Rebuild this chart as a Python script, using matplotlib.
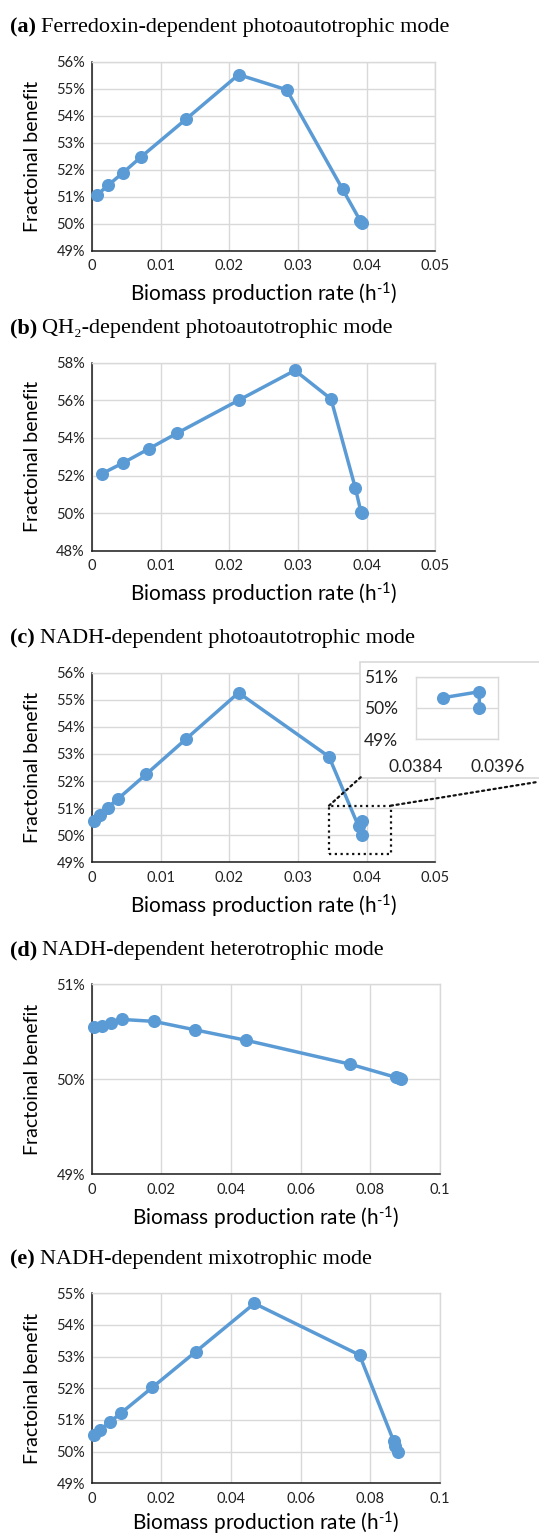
import matplotlib
matplotlib.use('Agg')
import matplotlib.pyplot as plt
from matplotlib.patches import Rectangle, ConnectionPatch
from matplotlib.ticker import FuncFormatter

plt.rcParams['font.family'] = ['Lato', 'DejaVu Sans']
plt.rcParams['mathtext.fontset'] = 'custom'
plt.rcParams['mathtext.rm'] = 'Lato'
plt.rcParams['mathtext.it'] = 'Lato:italic'
plt.rcParams['mathtext.bf'] = 'Lato:bold'

# values (x in h^-1, y in %)
a_x = [0.00075, 0.0024, 0.00455, 0.00715, 0.01365, 0.02135, 0.02835, 0.0365, 0.03905, 0.0393]
a_y = [51.06, 51.43, 51.89, 52.47, 53.86, 55.52, 54.96, 51.27, 50.11, 50.01]

b_x = [0.0015, 0.0045, 0.00835, 0.01245, 0.02135, 0.02955, 0.0348, 0.03835, 0.03915, 0.0393]
b_y = [52.10, 52.66, 53.43, 54.26, 56.00, 57.59, 56.07, 51.32, 50.07, 50.00]

c_x = [0.00025, 0.00115, 0.0023, 0.0038, 0.00795, 0.01365, 0.02135, 0.0345, 0.0388, 0.03933, 0.03933]
c_y = [50.54, 50.75, 51.02, 51.34, 52.26, 53.54, 55.26, 52.90, 50.33, 50.52, 50.00]

d_x = [0.0005, 0.0028, 0.0054, 0.0087, 0.0178, 0.0297, 0.0444, 0.0741, 0.0874, 0.0882, 0.0889]
d_y = [50.55, 50.56, 50.59, 50.63, 50.61, 50.52, 50.41, 50.16, 50.02, 50.01, 50.00]

e_x = [0.0007, 0.0024, 0.0051, 0.0083, 0.0174, 0.0299, 0.0467, 0.0769, 0.0867, 0.0872, 0.0878]
e_y = [50.51, 50.69, 50.93, 51.21, 52.03, 53.16, 54.68, 53.05, 50.33, 50.18, 49.99]

letters = ['(a)', '(b)', '(c)', '(d)', '(e)']
titles = ['Ferredoxin-dependent photoautotrophic mode',
          'QH\u2082-dependent photoautotrophic mode',
          'NADH-dependent photoautotrophic mode',
          'NADH-dependent heterotrophic mode',
          'NADH-dependent mixotrophic mode']
xmax = [0.05, 0.05, 0.05, 0.1, 0.1]
xstep = [0.01, 0.01, 0.01, 0.02, 0.02]
ylims = [(49, 56), (48, 58), (49, 56), (49, 51), (49, 55)]
ystep = [1, 2, 1, 1, 1]

blue = '#5b9bd5'
grid = '#d9d9d9'
W, H = 539, 1536

fig = plt.figure(figsize=(5.39, 15.36), dpi=100)

# axes boxes in pixels: left, top, right, bottom
boxes = [(91.8, 61.7, 435.5, 250.7),
         (91.8, 362.7, 435.5, 550.7),
         (91.8, 672.7, 435.5, 862.3),
         (91.8, 984.3, 440.0, 1174.3),
         (91.8, 1293.3, 440.0, 1483.3)]
title_y = [32, 333, 643, 955, 1264]
xlab_off = [44, 44, 44, 44, 40]


def pct(v, pos):
    return f'{v:.0f}%'


def num(v, pos):
    return f'{v:.3g}' if abs(v) > 1e-12 else '0'


data = [(a_x, a_y), (b_x, b_y), (c_x, c_y), (d_x, d_y), (e_x, e_y)]
serif = ['Liberation Serif', 'DejaVu Serif']
axes = []
for i, (xs, ys) in enumerate(data):
    l, t, r, b = boxes[i]
    ax = fig.add_axes([l / W, 1 - b / H, (r - l) / W, (b - t) / H])
    ax.plot(xs, ys, '-o', color=blue, lw=2.5, ms=8.4, clip_on=False, zorder=3)
    ax.set_xlim(0, xmax[i])
    ax.set_ylim(*ylims[i])
    n = int(round(xmax[i] / xstep[i]))
    ax.set_xticks([k * xstep[i] for k in range(n + 1)])
    ax.set_yticks(list(range(ylims[i][0], ylims[i][1] + 1, ystep[i])))
    ax.xaxis.set_major_formatter(FuncFormatter(num))
    ax.yaxis.set_major_formatter(FuncFormatter(pct))
    ax.grid(True, color=grid, lw=1.0)
    ax.set_axisbelow(True)
    ax.tick_params(length=0, labelsize=10.5, colors='#222222')
    ax.tick_params(axis='x', pad=6)
    ax.tick_params(axis='y', pad=5)
    for s in ['top', 'right']:
        ax.spines[s].set_color(grid)
        ax.spines[s].set_linewidth(1.0)
    for s in ['left', 'bottom']:
        ax.spines[s].set_color('#1a1a1a')
        ax.spines[s].set_linewidth(1.1)
    hpx = b - t
    ax.set_xlabel('Biomass production rate (h$^{\\text{-1}}$)', fontsize=15)
    ax.xaxis.set_label_coords(0.5, -xlab_off[i] / hpx)
    ax.xaxis.label.set_verticalalignment('center')
    ax.set_ylabel('Fractoinal benefit', fontsize=14)
    ax.yaxis.set_label_coords(-(l - 33) / (r - l), 0.5)
    ax.yaxis.label.set_verticalalignment('center')

    tb = fig.text(10 / W, 1 - title_y[i] / H, letters[i], fontsize=16, fontweight='bold',
                  family=serif, va='baseline', ha='left')
    ax.annotate(titles[i], xy=(1, 1 - title_y[i] / H), xycoords=(tb, 'figure fraction'),
                xytext=(3.5, 0), textcoords='offset points', fontsize=16,
                family=serif, va='baseline', ha='left', annotation_clip=False)
    axes.append(ax)

# zoom box on panel (c)
axc = axes[2]
axc.add_patch(Rectangle((0.0345, 49.31), 0.009, 1.78, fill=False, ec='#111111',
                        lw=1.6, ls=(0, (1, 1.6)), zorder=4, clip_on=False))

# inset panel (white frame running off the right edge)
fig.patches.append(Rectangle((360 / W, 1 - 778 / H), 200 / W, (778 - 661.7) / H,
                             transform=fig.transFigure, fc='white', ec=grid, lw=1.2, zorder=2))
for xy_a, xy_b in [((0.0345, 51.09), (361 / W, 1 - 777 / H)),
                   ((0.0435, 51.09), (1.0, 1 - 781.7 / H))]:
    con = ConnectionPatch(xyA=xy_a, coordsA=axc.transData, xyB=xy_b, coordsB=fig.transFigure,
                          color='#111111', lw=1.6, ls=(0, (1, 1.6)), zorder=3)
    fig.add_artist(con)

ins = fig.add_axes([416 / W, 1 - 739.3 / H, (497.7 - 416) / W, (739.3 - 676.7) / H], zorder=5)
ins.plot(c_x[-3:], c_y[-3:], '-o', color=blue, lw=2.5, ms=8.4, zorder=3)
ins.set_xlim(0.0384, 0.0396)
ins.set_ylim(49, 51)
ins.set_xticks([0.0384, 0.0396])
ins.set_yticks([49, 50, 51])
ins.xaxis.set_major_formatter(FuncFormatter(lambda v, p: f'{v:.4f}'))
ins.yaxis.set_major_formatter(FuncFormatter(pct))
ins.grid(True, axis='y', color=grid, lw=1.0)
ins.tick_params(length=0, labelsize=12.5, colors='#222222')
ins.tick_params(axis='x', pad=14)
ins.tick_params(axis='y', pad=13)
for s in ins.spines.values():
    s.set_color(grid)
    s.set_linewidth(1.0)

plt.savefig('out.png', dpi=100)
